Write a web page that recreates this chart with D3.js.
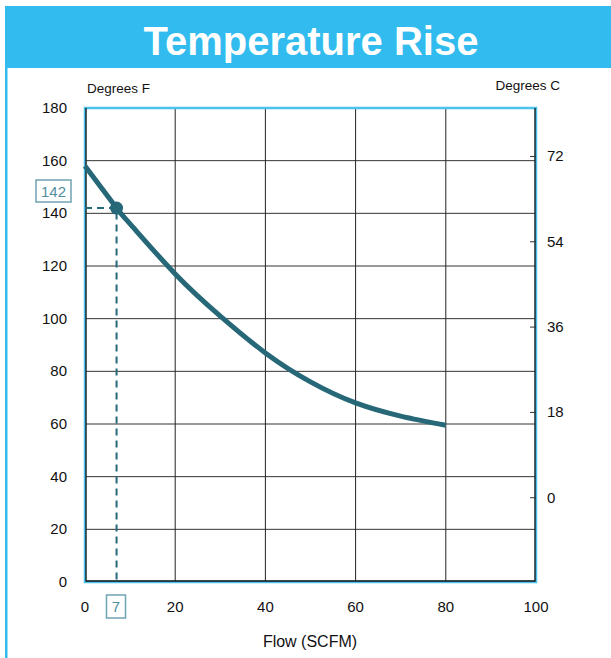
<!DOCTYPE html>
<html><head><meta charset="utf-8">
<script src="https://cdn.jsdelivr.net/npm/d3@7"></script>
<style>body{margin:0;background:#fff}svg{display:block;font-family:"Liberation Sans",Arial,sans-serif}</style>
</head><body>
<svg id="c" width="611" height="658"></svg>
<script>
const flow = [0, 7, 10, 20, 30, 40, 50, 60, 70, 80];
const tempF = [158, 142, 136, 117, 101, 87, 76, 68, 63, 59.5];
const xTicks = [0, 20, 40, 60, 80, 100];
const yTicksF = [0, 20, 40, 60, 80, 100, 120, 140, 160, 180];
const yTicksC = [0, 18, 36, 54, 72];
const marker = {flow: 7, temp: 142};

const svg = d3.select("#c");
const L = 85, R = 536, T = 108, B = 582;
const x = d3.scaleLinear().domain([0, 100]).range([L, R]);
const y = d3.scaleLinear().domain([0, 180]).range([B, T]);
const teal = "#266878", lightTeal = "#4f8ea0", blue = "#31bbee";

// header & page border
svg.append("rect").attr("x", 5).attr("y", 6).attr("width", 606).attr("height", 62).attr("fill", blue);
svg.append("rect").attr("x", 5).attr("y", 66).attr("width", 2.5).attr("height", 592).attr("fill", blue);
svg.append("text").attr("x", 311).attr("y", 55).attr("text-anchor", "middle")
  .attr("fill", "#fff").attr("font-size", 40).attr("font-weight", "bold").text("Temperature Rise");

// grid
const g = svg.append("g");
g.selectAll(".hg").data(yTicksF.filter(d => d > 0 && d < 180)).join("line")
  .attr("x1", L).attr("x2", R).attr("y1", d => y(d)).attr("y2", d => y(d))
  .attr("stroke", "#333").attr("stroke-width", 1);
g.selectAll(".vg").data(xTicks.filter(d => d > 0 && d < 100)).join("line")
  .attr("y1", T).attr("y2", B).attr("x1", d => x(d)).attr("x2", d => x(d))
  .attr("stroke", "#222").attr("stroke-width", 1);

// frame
svg.append("rect").attr("x", L).attr("y", T).attr("width", R - L).attr("height", B - T)
  .attr("fill", "none").attr("stroke", "#4cc2ec").attr("stroke-width", 2.5);
svg.append("path").attr("d", `M${L+1},${T}V${B-1}H${R-1}V${T}`).attr("fill", "none")
  .attr("stroke", "#111").attr("stroke-width", 1.3);

// axes labels
const lab = svg.append("g").attr("font-size", 15).attr("fill", "#111");
lab.selectAll(".yl").data(yTicksF).join("text")
  .attr("x", 67).attr("y", d => y(d) + 5).attr("text-anchor", "end").text(d => d);
lab.selectAll(".xl").data(xTicks).join("text")
  .attr("x", d => x(d)).attr("y", 612).attr("text-anchor", "middle").text(d => d);
const cToF = c => c * 9 / 5 + 32;
lab.selectAll(".cl").data(yTicksC).join("text")
  .attr("x", 547).attr("y", d => y(cToF(d)) + 5).attr("text-anchor", "start").text(d => d);
svg.selectAll(".ct").data(yTicksC).join("line")
  .attr("x1", R - 6).attr("x2", R).attr("y1", d => y(cToF(d))).attr("y2", d => y(cToF(d)))
  .attr("stroke", "#333").attr("stroke-width", 1);

svg.append("text").attr("x", 87).attr("y", 93).attr("font-size", 13.5).attr("fill", "#111").text("Degrees F");
svg.append("text").attr("x", 560).attr("y", 90).attr("font-size", 13.5).attr("fill", "#111").attr("text-anchor", "end").text("Degrees C");
svg.append("text").attr("x", 310).attr("y", 647).attr("font-size", 16).attr("fill", "#111").attr("text-anchor", "middle").text("Flow (SCFM)");

// dashed guides
svg.append("path").attr("d", `M${L},${y(marker.temp)}H${x(marker.flow)}V${B}`)
  .attr("fill", "none").attr("stroke", teal).attr("stroke-width", 2).attr("stroke-dasharray", "7,5");

// curve
const line = d3.line().x((d, i) => x(flow[i])).y(d => y(d)).curve(d3.curveNatural);
svg.append("path").attr("d", line(tempF)).attr("fill", "none")
  .attr("stroke", teal).attr("stroke-width", 5).attr("stroke-linecap", "butt");
svg.append("circle").attr("cx", x(marker.flow)).attr("cy", y(marker.temp)).attr("r", 6.5).attr("fill", teal);

// value boxes
svg.append("rect").attr("x", 36).attr("y", 180).attr("width", 35).attr("height", 22)
  .attr("fill", "#fff").attr("stroke", "#6fa3b2").attr("stroke-width", 1.5);
svg.append("text").attr("x", 53.5).attr("y", 197).attr("text-anchor", "middle").attr("font-size", 15)
  .attr("fill", lightTeal).text(marker.temp);
svg.append("rect").attr("x", 106.5).attr("y", 595).attr("width", 19).attr("height", 23)
  .attr("fill", "#fff").attr("stroke", "#6fa3b2").attr("stroke-width", 1.5);
svg.append("text").attr("x", 116).attr("y", 612).attr("text-anchor", "middle").attr("font-size", 15)
  .attr("fill", lightTeal).text(marker.flow);
</script>
</body></html>
